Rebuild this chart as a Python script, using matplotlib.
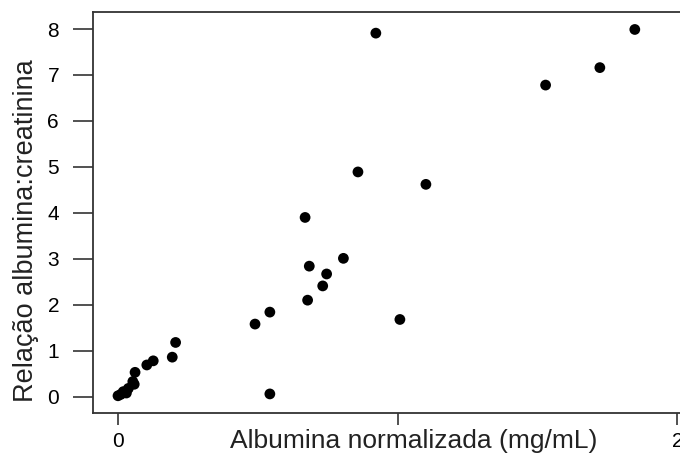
import numpy as np
import matplotlib
matplotlib.use("Agg")
from matplotlib import pyplot as plt

# albumina normalizada (mg/mL) vs relacao albumina:creatinina
albumina = [0.000, 0.010, 0.019, 0.030, 0.037, 0.053, 0.058, 0.061,
            0.103, 0.126, 0.194, 0.206,
            0.490, 0.543, 0.543,
            0.669, 0.678, 0.684, 0.732, 0.746, 0.806,
            0.858, 0.922, 1.008, 1.101,
            1.529, 1.723, 1.848]
relacao = [0.02, 0.05, 0.11, 0.08, 0.18, 0.33, 0.27, 0.53,
           0.69, 0.78, 0.86, 1.18,
           1.58, 1.84, 0.06,
           3.90, 2.10, 2.84, 2.41, 2.67, 3.01,
           4.89, 7.91, 1.68, 4.62,
           6.78, 7.16, 7.99]

x_ticks = [0, 1, 2]
x_tick_labels = ['0', '', '2']
y_ticks = [0, 1, 2, 3, 4, 5, 6, 7, 8]

plt.rcParams['font.family'] = ['Liberation Sans', 'DejaVu Sans']

fig = plt.figure(figsize=(6.8, 4.67), dpi=100)
ax = fig.add_axes([93 / 680, 54 / 467, 612 / 680, 401 / 467])

ax.scatter(albumina, relacao, s=60, color='black', edgecolors='none', zorder=3)

ax.set_xlim(-0.0894, 2.099)
ax.set_ylim(-0.355, 8.37)

ax.set_xticks(x_ticks)
ax.set_xticklabels(x_tick_labels)
ax.set_yticks(y_ticks)

ax.tick_params(axis='x', length=8.6, width=1.2, color='#333333', pad=5, labelsize=15)
ax.tick_params(axis='y', length=14.4, width=1.2, color='#333333', pad=10, labelsize=15)

for s in ['left', 'bottom', 'top']:
    ax.spines[s].set_linewidth(1.3)
    ax.spines[s].set_color('#333333')
ax.spines['right'].set_visible(False)

ax.set_xlabel('Albumina normalizada (mg/mL)', fontsize=19, color='#222222')
ax.set_ylabel('Relação albumina:creatinina', fontsize=19.5, color='#222222')
ax.xaxis.set_label_coords(0.524, -0.04)
ax.yaxis.set_label_coords(-0.089, 0.456)

fig.savefig('out.png', dpi=100)
